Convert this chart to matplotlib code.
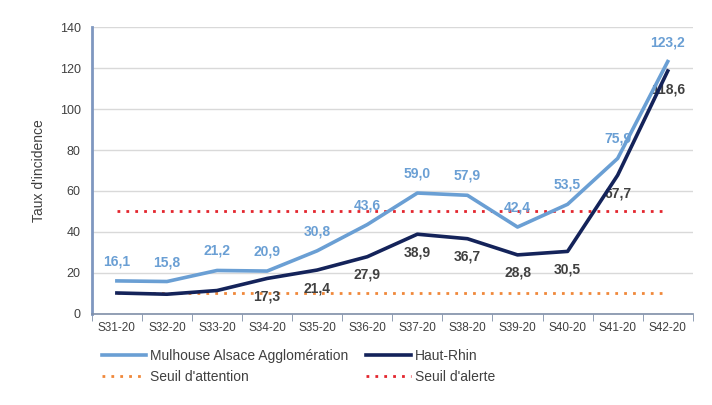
import matplotlib
matplotlib.use("Agg")
import matplotlib.pyplot as plt
import numpy as np

plt.rcParams['font.family'] = ['Liberation Sans', 'DejaVu Sans']

categories = ["S31-20", "S32-20", "S33-20", "S34-20", "S35-20", "S36-20",
              "S37-20", "S38-20", "S39-20", "S40-20", "S41-20", "S42-20"]
mulhouse = [16.1, 15.8, 21.2, 20.9, 30.8, 43.6, 59.0, 57.9, 42.4, 53.5, 75.9, 123.2]
haut_rhin = [10.2, 9.6, 11.4, 17.3, 21.4, 27.9, 38.9, 36.7, 28.8, 30.5, 67.7, 118.6]
haut_rhin_labels = [None, None, None, "17,3", "21,4", "27,9", "38,9", "36,7", "28,8", "30,5", "67,7", "118,6"]
seuil_attention = 10
seuil_alerte = 50

c_mul = '#6A9FD4'
c_hr = '#14235A'
c_att = '#F0883A'
c_al = '#E3262E'

fig = plt.figure(figsize=(7.12, 4.05), dpi=100)
ax = fig.add_axes([0.129, 0.225, 0.844, 0.708])
x = np.arange(len(categories))

ax.set_ylim(0, 140)
ax.set_xlim(-0.5, len(categories) - 0.5)
ax.set_yticks(np.arange(0, 141, 20))
ax.yaxis.grid(True, color='#D9D9D9', linewidth=1)
ax.set_axisbelow(True)

l_att, = ax.plot([x[0], x[-1]], [seuil_attention] * 2, linestyle=(0, (1, 2.2)),
                 color=c_att, linewidth=2, label="Seuil d'attention", zorder=2)
l_al, = ax.plot([x[0], x[-1]], [seuil_alerte] * 2, linestyle=(0, (1, 2.2)),
                color=c_al, linewidth=2, label="Seuil d'alerte", zorder=2)

for xi, v in zip(x, mulhouse):
    ax.annotate(f"{v:.1f}".replace('.', ','), (xi, v), xytext=(0, 9),
                textcoords='offset points', ha='center', va='bottom',
                color=c_mul, fontsize=10, fontweight='bold', zorder=3)
for xi, v, lab in zip(x, haut_rhin, haut_rhin_labels):
    if lab:
        ax.annotate(lab, (xi, v), xytext=(0, -8), textcoords='offset points',
                    ha='center', va='top', color='#404040', fontsize=10,
                    fontweight='bold', zorder=3)

l_mul, = ax.plot(x, mulhouse, color=c_mul, linewidth=2.6,
                 label="Mulhouse Alsace Agglomération", zorder=4)
l_hr, = ax.plot(x, haut_rhin, color=c_hr, linewidth=2.6,
                label="Haut-Rhin", zorder=5)

ax.set_xticks(x)
ax.set_xticklabels(categories, fontsize=8.5, color='#404040')
ax.set_xticks(np.arange(-0.5, len(categories), 1), minor=True)
ax.tick_params(axis='x', which='major', length=0, pad=6)
ax.tick_params(axis='x', which='minor', length=5, color='#7F8FA8', direction='out')
ax.tick_params(axis='y', length=0, labelsize=9, labelcolor='#404040', pad=8)

for s in ['top', 'right']:
    ax.spines[s].set_visible(False)
ax.spines['left'].set_color('#7F97C0')
ax.spines['left'].set_linewidth(2)
ax.spines['bottom'].set_color('#7F8FA8')
ax.spines['bottom'].set_linewidth(1.2)

ax.set_ylabel("Taux d'incidence", fontsize=10, color='#404040', labelpad=10)

fig.legend(handles=[l_mul, l_att, l_hr, l_al], ncol=2, frameon=False,
           loc='upper left', bbox_to_anchor=(0.125, 0.17), fontsize=10,
           handlelength=3.2, handletextpad=0.3, columnspacing=1.3,
           labelspacing=0.55, labelcolor='#404040')

fig.savefig("out.png", dpi=100)
